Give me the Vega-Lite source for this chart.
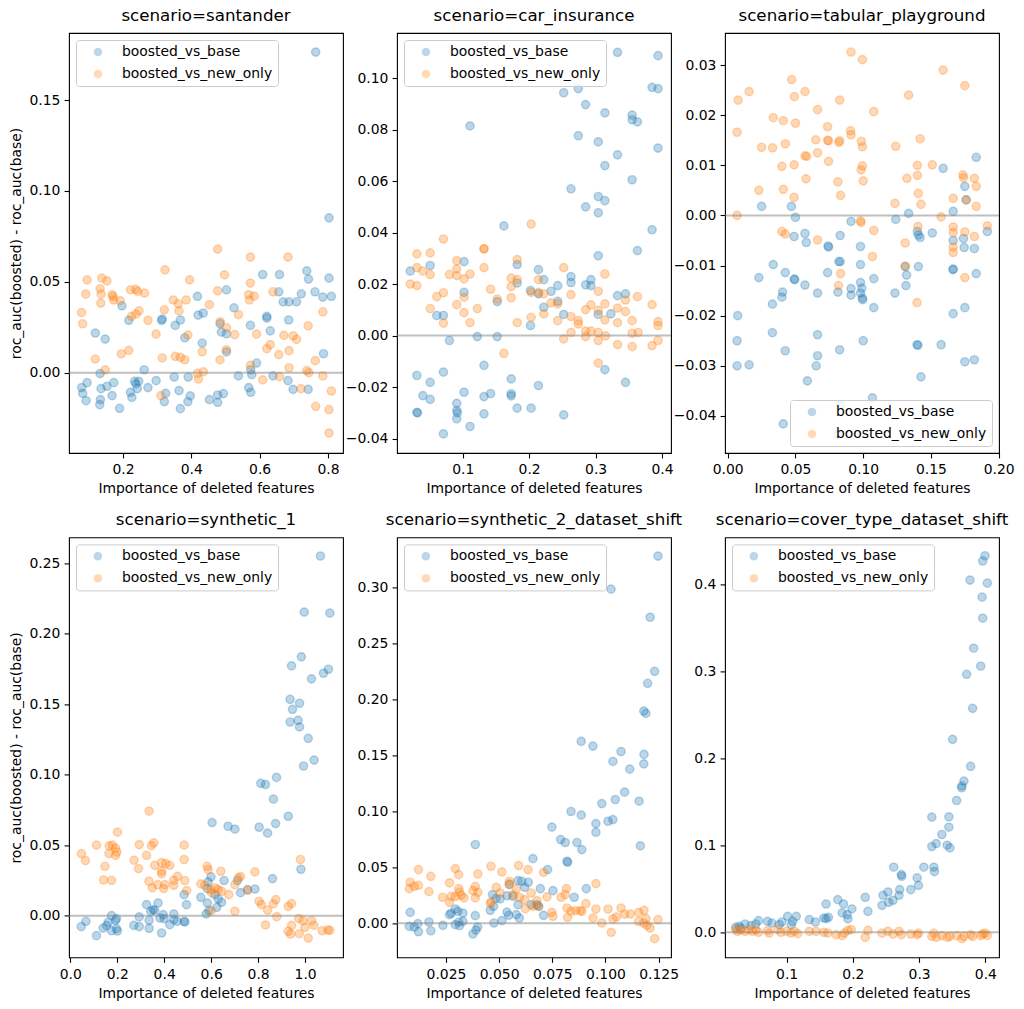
{
"$schema": "https://vega.github.io/schema/vega-lite/v6.json",
"padding": {"left": 9, "top": 7, "right": 5, "bottom": 5},
"background": "white",
"config": {
 "font": "DejaVu Sans",
 "view": {"stroke": "#000000", "strokeWidth": 1.1},
 "axis": {"grid": false, "domain": false, "ticks": true, "tickColor": "#000000", "tickSize": 4.9, "tickWidth": 1.1, "labelFontSize": 13.9, "labelColor": "#000000", "labelPadding": 4.9, "labelFlush": false, "labelOverlap": false, "labelBound": false, "titleFontSize": 13.9, "titleFontWeight": "normal", "titleColor": "#000000", "titlePadding": 5},
 "axisY": {"titlePadding": 5, "labelPadding": 4.2},
 "title": {"fontSize": 16.7, "fontWeight": "normal", "color": "#000000", "offset": 8.5, "baseline": "alphabetic", "anchor": "middle", "frame": "group"},
 "legend": {"offset": 7, "padding": 5, "fillColor": "rgba(255,255,255,0.8)", "strokeColor": "#cccccc", "strokeWidth": 1, "cornerRadius": 3, "labelFontSize": 13.9, "labelColor": "#000000", "symbolType": "circle", "symbolSize": 72, "symbolOpacity": 0.3, "symbolStrokeWidth": 0, "symbolOffset": 10, "labelOffset": 17, "rowPadding": 7}
},
"datasets": {
 "p1b": [{"x":0.764,"y":0.1764},{"x":0.803,"y":0.0852},{"x":0.738,"y":0.056},{"x":0.743,"y":0.0515},{"x":0.803,"y":0.052},{"x":0.609,"y":0.054},{"x":0.658,"y":0.054},{"x":0.503,"y":0.0456},{"x":0.418,"y":0.042},{"x":0.656,"y":0.0445},{"x":0.722,"y":0.0434},{"x":0.762,"y":0.0445},{"x":0.785,"y":0.0416},{"x":0.81,"y":0.042},{"x":0.669,"y":0.039},{"x":0.686,"y":0.039},{"x":0.708,"y":0.039},{"x":0.525,"y":0.0357},{"x":0.197,"y":0.0368},{"x":0.42,"y":0.0317},{"x":0.435,"y":0.0328},{"x":0.621,"y":0.031},{"x":0.621,"y":0.03},{"x":0.685,"y":0.029},{"x":0.217,"y":0.0288},{"x":0.313,"y":0.0288},{"x":0.315,"y":0.0295},{"x":0.353,"y":0.026},{"x":0.368,"y":0.029},{"x":0.573,"y":0.026},{"x":0.484,"y":0.027},{"x":0.488,"y":0.0223},{"x":0.503,"y":0.0214},{"x":0.631,"y":0.023},{"x":0.119,"y":0.0218},{"x":0.148,"y":0.0185},{"x":0.381,"y":0.0192},{"x":0.432,"y":0.0163},{"x":0.503,"y":0.0114},{"x":0.787,"y":0.0104},{"x":0.591,"y":0.0053},{"x":0.262,"y":0.0016},{"x":0.574,"y":0.0016},{"x":0.577,"y":-0.0011},{"x":0.133,"y":-0.0005},{"x":0.538,"y":-0.0018},{"x":0.639,"y":-0.0018},{"x":0.683,"y":-0.0044},{"x":0.35,"y":-0.0024},{"x":0.391,"y":-0.0024},{"x":0.297,"y":-0.0044},{"x":0.095,"y":-0.0055},{"x":0.173,"y":-0.0055},{"x":0.234,"y":-0.0048},{"x":0.246,"y":-0.0048},{"x":0.238,"y":-0.0062},{"x":0.079,"y":-0.0082},{"x":0.082,"y":-0.0114},{"x":0.092,"y":-0.0154},{"x":0.136,"y":-0.0088},{"x":0.153,"y":-0.0075},{"x":0.168,"y":-0.0126},{"x":0.134,"y":-0.0148},{"x":0.132,"y":-0.0176},{"x":0.19,"y":-0.0196},{"x":0.222,"y":-0.0108},{"x":0.226,"y":-0.0136},{"x":0.242,"y":-0.0088},{"x":0.273,"y":-0.0082},{"x":0.325,"y":-0.0114},{"x":0.321,"y":-0.0159},{"x":0.364,"y":-0.0099},{"x":0.368,"y":-0.0198},{"x":0.397,"y":-0.0128},{"x":0.39,"y":-0.0159},{"x":0.453,"y":-0.0148},{"x":0.477,"y":-0.0123},{"x":0.477,"y":-0.0163},{"x":0.494,"y":-0.0115},{"x":0.568,"y":-0.0082},{"x":0.574,"y":-0.0108},{"x":0.698,"y":-0.0092},{"x":0.742,"y":-0.0092}],
 "p1o": [{"x":0.477,"y":0.068},{"x":0.573,"y":0.0636},{"x":0.683,"y":0.0636},{"x":0.323,"y":0.0566},{"x":0.095,"y":0.0511},{"x":0.138,"y":0.052},{"x":0.153,"y":0.0505},{"x":0.395,"y":0.0511},{"x":0.497,"y":0.0538},{"x":0.573,"y":0.0493},{"x":0.091,"y":0.0432},{"x":0.133,"y":0.0462},{"x":0.136,"y":0.0432},{"x":0.135,"y":0.0383},{"x":0.168,"y":0.0429},{"x":0.171,"y":0.0419},{"x":0.173,"y":0.04},{"x":0.192,"y":0.0396},{"x":0.222,"y":0.0456},{"x":0.237,"y":0.0458},{"x":0.243,"y":0.0447},{"x":0.263,"y":0.0438},{"x":0.347,"y":0.04},{"x":0.362,"y":0.0379},{"x":0.385,"y":0.04},{"x":0.364,"y":0.034},{"x":0.321,"y":0.0346},{"x":0.453,"y":0.0374},{"x":0.477,"y":0.045},{"x":0.568,"y":0.0429},{"x":0.584,"y":0.0421},{"x":0.57,"y":0.04},{"x":0.639,"y":0.0445},{"x":0.079,"y":0.033},{"x":0.082,"y":0.0269},{"x":0.225,"y":0.031},{"x":0.238,"y":0.0322},{"x":0.247,"y":0.034},{"x":0.273,"y":0.0288},{"x":0.297,"y":0.0212},{"x":0.39,"y":0.0207},{"x":0.485,"y":0.028},{"x":0.503,"y":0.0247},{"x":0.527,"y":0.0209},{"x":0.538,"y":0.0319},{"x":0.591,"y":0.0212},{"x":0.671,"y":0.0205},{"x":0.698,"y":0.0203},{"x":0.708,"y":0.0183},{"x":0.742,"y":0.0258},{"x":0.785,"y":0.0335},{"x":0.686,"y":0.0121},{"x":0.631,"y":0.0154},{"x":0.621,"y":0.0132},{"x":0.656,"y":0.0099},{"x":0.119,"y":0.0075},{"x":0.195,"y":0.0103},{"x":0.217,"y":0.0123},{"x":0.315,"y":0.0081},{"x":0.353,"y":0.009},{"x":0.368,"y":0.0084},{"x":0.381,"y":0.0071},{"x":0.432,"y":0.0115},{"x":0.484,"y":0.007},{"x":0.503,"y":0.0126},{"x":0.148,"y":0.0015},{"x":0.418,"y":-0.0004},{"x":0.421,"y":-0.0035},{"x":0.435,"y":0.0005},{"x":0.573,"y":0.004},{"x":0.686,"y":0.0027},{"x":0.738,"y":0.0011},{"x":0.744,"y":0.0},{"x":0.763,"y":0.0066},{"x":0.785,"y":-0.0018},{"x":0.609,"y":-0.004},{"x":0.658,"y":-0.0022},{"x":0.721,"y":-0.0088},{"x":0.81,"y":-0.0101},{"x":0.311,"y":-0.0126},{"x":0.764,"y":-0.0185},{"x":0.803,"y":-0.0203},{"x":0.803,"y":-0.0333}],
 "p2b": [{"x":0.333,"y":0.11},{"x":0.394,"y":0.1087},{"x":0.252,"y":0.0943},{"x":0.274,"y":0.0959},{"x":0.285,"y":0.0897},{"x":0.314,"y":0.0865},{"x":0.355,"y":0.0856},{"x":0.355,"y":0.0838},{"x":0.363,"y":0.083},{"x":0.385,"y":0.0964},{"x":0.394,"y":0.0959},{"x":0.111,"y":0.0814},{"x":0.274,"y":0.0776},{"x":0.304,"y":0.0752},{"x":0.333,"y":0.0702},{"x":0.394,"y":0.0728},{"x":0.314,"y":0.066},{"x":0.355,"y":0.0605},{"x":0.263,"y":0.057},{"x":0.304,"y":0.054},{"x":0.314,"y":0.0524},{"x":0.285,"y":0.05},{"x":0.304,"y":0.0477},{"x":0.162,"y":0.0426},{"x":0.385,"y":0.0411},{"x":0.363,"y":0.033},{"x":0.304,"y":0.031},{"x":0.021,"y":0.025},{"x":0.051,"y":0.0272},{"x":0.102,"y":0.0287},{"x":0.182,"y":0.0276},{"x":0.214,"y":0.0256},{"x":0.222,"y":0.0217},{"x":0.263,"y":0.0229},{"x":0.263,"y":0.0206},{"x":0.182,"y":0.0204},{"x":0.102,"y":0.0168},{"x":0.202,"y":0.0175},{"x":0.214,"y":0.0162},{"x":0.233,"y":0.0172},{"x":0.243,"y":0.0194},{"x":0.293,"y":0.0217},{"x":0.285,"y":0.0197},{"x":0.293,"y":0.0194},{"x":0.333,"y":0.0155},{"x":0.345,"y":0.0162},{"x":0.152,"y":0.0132},{"x":0.243,"y":0.0133},{"x":0.222,"y":0.011},{"x":0.061,"y":0.0078},{"x":0.071,"y":0.0078},{"x":0.252,"y":0.0082},{"x":0.304,"y":0.0082},{"x":0.323,"y":0.0084},{"x":0.202,"y":0.0039},{"x":0.122,"y":-0.0004},{"x":0.152,"y":-0.0004},{"x":0.08,"y":-0.0019},{"x":0.031,"y":-0.0155},{"x":0.071,"y":-0.0142},{"x":0.132,"y":-0.0116},{"x":0.051,"y":-0.0182},{"x":0.173,"y":-0.0168},{"x":0.314,"y":-0.0132},{"x":0.345,"y":-0.0182},{"x":0.214,"y":-0.0194},{"x":0.04,"y":-0.0233},{"x":0.051,"y":-0.0248},{"x":0.102,"y":-0.022},{"x":0.132,"y":-0.0237},{"x":0.142,"y":-0.0225},{"x":0.173,"y":-0.0226},{"x":0.173,"y":-0.0234},{"x":0.091,"y":-0.0263},{"x":0.031,"y":-0.0298},{"x":0.032,"y":-0.03},{"x":0.091,"y":-0.0291},{"x":0.092,"y":-0.03},{"x":0.091,"y":-0.0323},{"x":0.182,"y":-0.0282},{"x":0.203,"y":-0.0282},{"x":0.132,"y":-0.0304},{"x":0.252,"y":-0.0308},{"x":0.111,"y":-0.0353},{"x":0.071,"y":-0.0382}],
 "p2o": [{"x":0.203,"y":0.0433},{"x":0.071,"y":0.0375},{"x":0.132,"y":0.0336},{"x":0.132,"y":0.0338},{"x":0.031,"y":0.0317},{"x":0.051,"y":0.0321},{"x":0.091,"y":0.0291},{"x":0.182,"y":0.0295},{"x":0.132,"y":0.0264},{"x":0.252,"y":0.0264},{"x":0.031,"y":0.0264},{"x":0.04,"y":0.025},{"x":0.051,"y":0.0237},{"x":0.091,"y":0.0259},{"x":0.08,"y":0.0237},{"x":0.091,"y":0.0233},{"x":0.102,"y":0.022},{"x":0.111,"y":0.0239},{"x":0.173,"y":0.0223},{"x":0.182,"y":0.0217},{"x":0.214,"y":0.0217},{"x":0.314,"y":0.0239},{"x":0.021,"y":0.02},{"x":0.031,"y":0.0194},{"x":0.173,"y":0.019},{"x":0.142,"y":0.018},{"x":0.071,"y":0.0166},{"x":0.061,"y":0.0151},{"x":0.102,"y":0.0149},{"x":0.152,"y":0.0142},{"x":0.173,"y":0.0147},{"x":0.203,"y":0.0168},{"x":0.214,"y":0.0168},{"x":0.222,"y":0.0162},{"x":0.263,"y":0.0159},{"x":0.304,"y":0.0172},{"x":0.363,"y":0.0151},{"x":0.345,"y":0.0138},{"x":0.091,"y":0.012},{"x":0.051,"y":0.0105},{"x":0.122,"y":0.0105},{"x":0.233,"y":0.0127},{"x":0.243,"y":0.0123},{"x":0.293,"y":0.0119},{"x":0.314,"y":0.0123},{"x":0.333,"y":0.0107},{"x":0.385,"y":0.012},{"x":0.102,"y":0.0089},{"x":0.222,"y":0.0084},{"x":0.285,"y":0.0101},{"x":0.304,"y":0.0098},{"x":0.345,"y":0.0093},{"x":0.071,"y":0.0048},{"x":0.111,"y":0.005},{"x":0.182,"y":0.005},{"x":0.203,"y":0.0071},{"x":0.243,"y":0.0058},{"x":0.263,"y":0.0074},{"x":0.274,"y":0.0058},{"x":0.274,"y":0.0045},{"x":0.314,"y":0.0061},{"x":0.333,"y":0.005},{"x":0.355,"y":0.0058},{"x":0.394,"y":0.0054},{"x":0.394,"y":0.0039},{"x":0.263,"y":0.0012},{"x":0.285,"y":0.0017},{"x":0.293,"y":0.0017},{"x":0.304,"y":0.0012},{"x":0.315,"y":-0.0001},{"x":0.285,"y":-0.0004},{"x":0.355,"y":0.0009},{"x":0.364,"y":0.0012},{"x":0.252,"y":-0.0013},{"x":0.304,"y":-0.0019},{"x":0.333,"y":-0.0035},{"x":0.355,"y":-0.0043},{"x":0.385,"y":-0.0039},{"x":0.394,"y":-0.0019},{"x":0.162,"y":-0.0069},{"x":0.304,"y":-0.0107}],
 "p3b": [{"x":0.1834,"y":0.0116},{"x":0.159,"y":0.0094},{"x":0.175,"y":0.0058},{"x":0.176,"y":0.0031},{"x":0.025,"y":0.0018},{"x":0.047,"y":0.0018},{"x":0.1664,"y":0.0008},{"x":0.1335,"y":0.0004},{"x":0.05,"y":-0.0004},{"x":0.091,"y":-0.0012},{"x":0.124,"y":-0.0008},{"x":0.14,"y":-0.0032},{"x":0.1407,"y":-0.0039},{"x":0.142,"y":-0.0044},{"x":0.151,"y":-0.0035},{"x":0.1916,"y":-0.0032},{"x":0.049,"y":-0.0042},{"x":0.057,"y":-0.0036},{"x":0.058,"y":-0.0054},{"x":0.083,"y":-0.004},{"x":0.074,"y":-0.0061},{"x":0.0745,"y":-0.0063},{"x":0.1664,"y":-0.005},{"x":0.174,"y":-0.0046},{"x":0.1745,"y":-0.0064},{"x":0.182,"y":-0.0066},{"x":0.098,"y":-0.0062},{"x":0.083,"y":-0.0092},{"x":0.082,"y":-0.0092},{"x":0.098,"y":-0.0098},{"x":0.0336,"y":-0.0098},{"x":0.1407,"y":-0.0102},{"x":0.131,"y":-0.0102},{"x":0.1664,"y":-0.0107},{"x":0.1662,"y":-0.0108},{"x":0.0737,"y":-0.0114},{"x":0.0425,"y":-0.0114},{"x":0.132,"y":-0.0119},{"x":0.1834,"y":-0.0116},{"x":0.023,"y":-0.0124},{"x":0.049,"y":-0.0127},{"x":0.0495,"y":-0.0128},{"x":0.1078,"y":-0.0126},{"x":0.057,"y":-0.0139},{"x":0.1315,"y":-0.014},{"x":0.098,"y":-0.0134},{"x":0.099,"y":-0.0145},{"x":0.091,"y":-0.0146},{"x":0.091,"y":-0.0159},{"x":0.0813,"y":-0.0153},{"x":0.0663,"y":-0.0155},{"x":0.0405,"y":-0.0153},{"x":0.04,"y":-0.0163},{"x":0.098,"y":-0.0155},{"x":0.0994,"y":-0.0165},{"x":0.0996,"y":-0.0168},{"x":0.1234,"y":-0.0155},{"x":0.1078,"y":-0.0184},{"x":0.033,"y":-0.0177},{"x":0.1664,"y":-0.0196},{"x":0.175,"y":-0.0184},{"x":0.0074,"y":-0.02},{"x":0.0069,"y":-0.025},{"x":0.033,"y":-0.0234},{"x":0.0663,"y":-0.0238},{"x":0.1,"y":-0.025},{"x":0.0425,"y":-0.027},{"x":0.0663,"y":-0.028},{"x":0.0826,"y":-0.0268},{"x":0.1397,"y":-0.0258},{"x":0.1404,"y":-0.0259},{"x":0.1575,"y":-0.0258},{"x":0.0069,"y":-0.03},{"x":0.0158,"y":-0.0298},{"x":0.0653,"y":-0.03},{"x":0.175,"y":-0.0292},{"x":0.182,"y":-0.0288},{"x":0.0588,"y":-0.033},{"x":0.1426,"y":-0.0322},{"x":0.1068,"y":-0.0364},{"x":0.0833,"y":-0.0378},{"x":0.041,"y":-0.0416},{"x":0.081,"y":-0.0438}],
 "p3o": [{"x":0.091,"y":0.0326},{"x":0.0994,"y":0.0311},{"x":0.159,"y":0.029},{"x":0.0472,"y":0.0271},{"x":0.175,"y":0.0259},{"x":0.0158,"y":0.0247},{"x":0.057,"y":0.0247},{"x":0.0077,"y":0.023},{"x":0.0492,"y":0.0237},{"x":0.0826,"y":0.023},{"x":0.1335,"y":0.024},{"x":0.0663,"y":0.0211},{"x":0.1078,"y":0.0207},{"x":0.0336,"y":0.0195},{"x":0.041,"y":0.0189},{"x":0.05,"y":0.0184},{"x":0.0737,"y":0.0177},{"x":0.0069,"y":0.0166},{"x":0.0907,"y":0.0169},{"x":0.091,"y":0.0161},{"x":0.065,"y":0.0151},{"x":0.0737,"y":0.015},{"x":0.0744,"y":0.0149},{"x":0.082,"y":0.0146},{"x":0.0826,"y":0.0149},{"x":0.0986,"y":0.0148},{"x":0.0994,"y":0.0137},{"x":0.124,"y":0.0138},{"x":0.142,"y":0.0153},{"x":0.025,"y":0.0136},{"x":0.0331,"y":0.0135},{"x":0.0425,"y":0.0143},{"x":0.057,"y":0.0119},{"x":0.0583,"y":0.0118},{"x":0.0663,"y":0.0125},{"x":0.0744,"y":0.0108},{"x":0.04,"y":0.0098},{"x":0.049,"y":0.0101},{"x":0.0984,"y":0.0091},{"x":0.0994,"y":0.0099},{"x":0.14,"y":0.01},{"x":0.151,"y":0.0101},{"x":0.0578,"y":0.0073},{"x":0.0813,"y":0.0067},{"x":0.1,"y":0.0069},{"x":0.1323,"y":0.0074},{"x":0.14,"y":0.008},{"x":0.1736,"y":0.0081},{"x":0.174,"y":0.0075},{"x":0.182,"y":0.0074},{"x":0.1834,"y":0.0058},{"x":0.023,"y":0.005},{"x":0.041,"y":0.0052},{"x":0.049,"y":0.0036},{"x":0.0833,"y":0.004},{"x":0.1407,"y":0.0044},{"x":0.1234,"y":0.0024},{"x":0.1426,"y":0.0022},{"x":0.1664,"y":0.0034},{"x":0.176,"y":0.0031},{"x":0.1834,"y":0.0018},{"x":0.0069,"y":0.0},{"x":0.1575,"y":-0.0003},{"x":0.098,"y":-0.0011},{"x":0.0984,"y":-0.0014},{"x":0.04,"y":-0.0032},{"x":0.0425,"y":-0.0037},{"x":0.1078,"y":-0.003},{"x":0.1404,"y":-0.0022},{"x":0.1664,"y":-0.0023},{"x":0.1664,"y":-0.0034},{"x":0.175,"y":-0.0033},{"x":0.182,"y":-0.0042},{"x":0.1916,"y":-0.0021},{"x":0.0663,"y":-0.0049},{"x":0.131,"y":-0.0055},{"x":0.1664,"y":-0.0063},{"x":0.1664,"y":-0.0074},{"x":0.1068,"y":-0.0082},{"x":0.131,"y":-0.0101},{"x":0.0833,"y":-0.0116},{"x":0.175,"y":-0.0124},{"x":0.0818,"y":-0.014},{"x":0.1397,"y":-0.0174}],
 "p4b": [{"x":1.065,"y":0.255},{"x":0.996,"y":0.2152},{"x":1.105,"y":0.2145},{"x":0.984,"y":0.1835},{"x":0.942,"y":0.1771},{"x":1.078,"y":0.1719},{"x":1.099,"y":0.1747},{"x":1.027,"y":0.1679},{"x":0.936,"y":0.1534},{"x":0.976,"y":0.1506},{"x":0.946,"y":0.1463},{"x":0.936,"y":0.1373},{"x":0.97,"y":0.1385},{"x":0.976,"y":0.1338},{"x":1.013,"y":0.1257},{"x":1.038,"y":0.1103},{"x":0.993,"y":0.1061},{"x":0.878,"y":0.098},{"x":0.811,"y":0.0938},{"x":0.831,"y":0.093},{"x":0.865,"y":0.0826},{"x":0.928,"y":0.0705},{"x":0.604,"y":0.066},{"x":0.672,"y":0.0634},{"x":0.701,"y":0.0613},{"x":0.804,"y":0.0627},{"x":0.874,"y":0.0653},{"x":0.84,"y":0.0585},{"x":0.982,"y":0.0329},{"x":0.861,"y":0.0263},{"x":0.599,"y":0.0275},{"x":0.655,"y":0.0249},{"x":0.712,"y":0.0249},{"x":0.587,"y":0.0239},{"x":0.725,"y":0.0163},{"x":0.755,"y":0.0185},{"x":0.786,"y":0.0189},{"x":0.584,"y":0.0192},{"x":0.485,"y":0.0149},{"x":0.556,"y":0.013},{"x":0.616,"y":0.0149},{"x":0.63,"y":0.0118},{"x":0.644,"y":0.0095},{"x":0.584,"y":0.009},{"x":0.624,"y":0.0059},{"x":0.59,"y":0.0036},{"x":0.579,"y":0.0012},{"x":0.495,"y":0.0078},{"x":0.325,"y":0.0078},{"x":0.374,"y":0.009},{"x":0.353,"y":0.0043},{"x":0.343,"y":0.0031},{"x":0.36,"y":0.0038},{"x":0.382,"y":-0.0017},{"x":0.396,"y":0.0007},{"x":0.4,"y":-0.0021},{"x":0.441,"y":0.0012},{"x":0.441,"y":-0.0028},{"x":0.424,"y":-0.0064},{"x":0.455,"y":-0.004},{"x":0.485,"y":-0.004},{"x":0.488,"y":-0.0045},{"x":0.389,"y":-0.0123},{"x":0.336,"y":-0.0033},{"x":0.336,"y":-0.009},{"x":0.294,"y":-0.0009},{"x":0.294,"y":-0.0078},{"x":0.271,"y":-0.0069},{"x":0.176,"y":0.0},{"x":0.197,"y":-0.0021},{"x":0.193,"y":-0.0033},{"x":0.162,"y":-0.0047},{"x":0.14,"y":-0.0088},{"x":0.155,"y":-0.0071},{"x":0.176,"y":-0.0107},{"x":0.197,"y":-0.0092},{"x":0.201,"y":-0.0109},{"x":0.067,"y":-0.004},{"x":0.047,"y":-0.0078},{"x":0.112,"y":-0.0142}],
 "p4o": [{"x":0.336,"y":0.0741},{"x":0.201,"y":0.0592},{"x":0.112,"y":0.05},{"x":0.294,"y":0.0504},{"x":0.166,"y":0.0495},{"x":0.18,"y":0.05},{"x":0.193,"y":0.0478},{"x":0.346,"y":0.0497},{"x":0.356,"y":0.0516},{"x":0.485,"y":0.05},{"x":0.048,"y":0.044},{"x":0.165,"y":0.044},{"x":0.199,"y":0.045},{"x":0.193,"y":0.0428},{"x":0.065,"y":0.0391},{"x":0.325,"y":0.0428},{"x":0.272,"y":0.0393},{"x":0.485,"y":0.0398},{"x":0.148,"y":0.035},{"x":0.291,"y":0.0334},{"x":0.36,"y":0.0357},{"x":0.389,"y":0.0376},{"x":0.406,"y":0.0369},{"x":0.424,"y":0.0357},{"x":0.389,"y":0.0315},{"x":0.389,"y":0.0296},{"x":0.583,"y":0.035},{"x":0.587,"y":0.0327},{"x":0.98,"y":0.0398},{"x":0.641,"y":0.0315},{"x":0.786,"y":0.031},{"x":0.725,"y":0.0277},{"x":0.142,"y":0.0253},{"x":0.176,"y":0.0251},{"x":0.335,"y":0.0244},{"x":0.457,"y":0.0279},{"x":0.488,"y":0.0249},{"x":0.44,"y":0.025},{"x":0.372,"y":0.022},{"x":0.349,"y":0.0197},{"x":0.403,"y":0.022},{"x":0.398,"y":0.0192},{"x":0.441,"y":0.0215},{"x":0.496,"y":0.0178},{"x":0.556,"y":0.0225},{"x":0.573,"y":0.0215},{"x":0.599,"y":0.0185},{"x":0.601,"y":0.0161},{"x":0.618,"y":0.0197},{"x":0.63,"y":0.0185},{"x":0.644,"y":0.0173},{"x":0.675,"y":0.0149},{"x":0.715,"y":0.0268},{"x":0.701,"y":0.022},{"x":0.755,"y":0.018},{"x":0.804,"y":0.0102},{"x":0.814,"y":0.0078},{"x":0.84,"y":0.004},{"x":0.864,"y":0.0083},{"x":0.875,"y":0.0114},{"x":0.928,"y":0.0066},{"x":0.942,"y":0.0085},{"x":0.879,"y":-0.0007},{"x":0.701,"y":0.0031},{"x":0.601,"y":0.0036},{"x":0.831,"y":-0.0066},{"x":0.973,"y":-0.0021},{"x":0.991,"y":-0.0036},{"x":1.027,"y":-0.0036},{"x":0.942,"y":-0.0069},{"x":0.999,"y":-0.0083},{"x":1.037,"y":-0.0069},{"x":0.938,"y":-0.013},{"x":0.975,"y":-0.0128},{"x":1.013,"y":-0.0159},{"x":1.072,"y":-0.0107},{"x":1.096,"y":-0.0102},{"x":1.105,"y":-0.0104},{"x":0.928,"y":-0.0111}],
 "p5b": [{"x":0.1247,"y":0.328},{"x":0.1026,"y":0.2985},{"x":0.121,"y":0.2734},{"x":0.1231,"y":0.2251},{"x":0.1198,"y":0.2144},{"x":0.118,"y":0.1896},{"x":0.119,"y":0.1875},{"x":0.0886,"y":0.1625},{"x":0.0941,"y":0.1583},{"x":0.1073,"y":0.1535},{"x":0.1035,"y":0.1446},{"x":0.1181,"y":0.1509},{"x":0.118,"y":0.1425},{"x":0.1114,"y":0.1377},{"x":0.109,"y":0.1172},{"x":0.1046,"y":0.1106},{"x":0.1158,"y":0.1091},{"x":0.0983,"y":0.107},{"x":0.0838,"y":0.0999},{"x":0.0886,"y":0.0966},{"x":0.0955,"y":0.0891},{"x":0.1012,"y":0.0912},{"x":0.1035,"y":0.0927},{"x":0.0955,"y":0.0814},{"x":0.0748,"y":0.0859},{"x":0.0789,"y":0.0748},{"x":0.0811,"y":0.0722},{"x":0.0866,"y":0.0722},{"x":0.0889,"y":0.0659},{"x":0.1164,"y":0.0692},{"x":0.0388,"y":0.0704},{"x":0.0659,"y":0.0578},{"x":0.0819,"y":0.0555},{"x":0.0822,"y":0.0546},{"x":0.0728,"y":0.048},{"x":0.0589,"y":0.0382},{"x":0.0607,"y":0.0376},{"x":0.0637,"y":0.0367},{"x":0.062,"y":0.0322},{"x":0.0548,"y":0.0346},{"x":0.0694,"y":0.031},{"x":0.0753,"y":0.0292},{"x":0.091,"y":0.031},{"x":0.0469,"y":0.0256},{"x":0.0505,"y":0.0218},{"x":0.0485,"y":0.0221},{"x":0.0538,"y":0.0247},{"x":0.0565,"y":0.0241},{"x":0.0589,"y":0.0167},{"x":0.0651,"y":0.0167},{"x":0.0678,"y":0.0167},{"x":0.0686,"y":0.0152},{"x":0.0853,"y":0.0233},{"x":0.0458,"y":0.0116},{"x":0.0474,"y":0.0152},{"x":0.0537,"y":0.0101},{"x":0.0545,"y":0.0072},{"x":0.0581,"y":0.0078},{"x":0.0595,"y":0.0048},{"x":0.0709,"y":0.0072},{"x":0.0513,"y":0.0024},{"x":0.0476,"y":0.0003},{"x":0.0294,"y":0.0128},{"x":0.0267,"y":0.0078},{"x":0.0275,"y":0.009},{"x":0.0306,"y":0.0107},{"x":0.033,"y":0.0092},{"x":0.0294,"y":-0.0012},{"x":0.031,"y":0.0012},{"x":0.0314,"y":-0.0021},{"x":0.033,"y":0.0018},{"x":0.0388,"y":0.0069},{"x":0.0236,"y":-0.0018},{"x":0.017,"y":0.0012},{"x":0.0179,"y":-0.0066},{"x":0.0118,"y":-0.0003},{"x":0.0121,"y":-0.0075},{"x":0.0082,"y":0.0098},{"x":0.0078,"y":-0.0027},{"x":0.0101,"y":-0.0033},{"x":0.0377,"y":-0.0095},{"x":0.0391,"y":-0.006},{"x":0.0399,"y":-0.0033}],
 "p5o": [{"x":0.0121,"y":0.048},{"x":0.0179,"y":0.042},{"x":0.0294,"y":0.0489},{"x":0.031,"y":0.0435},{"x":0.04,"y":0.0441},{"x":0.0462,"y":0.051},{"x":0.0513,"y":0.0459},{"x":0.0592,"y":0.0516},{"x":0.0636,"y":0.048},{"x":0.0709,"y":0.0456},{"x":0.0082,"y":0.0367},{"x":0.0078,"y":0.031},{"x":0.0101,"y":0.0331},{"x":0.0121,"y":0.034},{"x":0.017,"y":0.0283},{"x":0.0267,"y":0.0361},{"x":0.0234,"y":0.0233},{"x":0.0267,"y":0.0188},{"x":0.0275,"y":0.0242},{"x":0.031,"y":0.031},{"x":0.0314,"y":0.028},{"x":0.0294,"y":0.0239},{"x":0.0322,"y":0.025},{"x":0.0335,"y":0.0227},{"x":0.0388,"y":0.0331},{"x":0.0377,"y":0.0292},{"x":0.04,"y":0.0277},{"x":0.0388,"y":0.0227},{"x":0.0462,"y":0.0191},{"x":0.0459,"y":0.0176},{"x":0.0487,"y":0.0322},{"x":0.0505,"y":0.0271},{"x":0.0548,"y":0.0376},{"x":0.0548,"y":0.0352},{"x":0.0565,"y":0.0256},{"x":0.0581,"y":0.0307},{"x":0.0595,"y":0.0233},{"x":0.062,"y":0.0212},{"x":0.0623,"y":0.0131},{"x":0.0651,"y":0.0271},{"x":0.0678,"y":0.0203},{"x":0.0686,"y":0.0152},{"x":0.066,"y":0.0152},{"x":0.0725,"y":0.0236},{"x":0.0748,"y":0.0098},{"x":0.0753,"y":0.0063},{"x":0.0791,"y":0.0233},{"x":0.0816,"y":0.031},{"x":0.0811,"y":0.0256},{"x":0.0819,"y":0.0137},{"x":0.0822,"y":0.0054},{"x":0.0838,"y":0.0107},{"x":0.086,"y":0.0113},{"x":0.0882,"y":0.0113},{"x":0.0889,"y":0.0107},{"x":0.0908,"y":0.0176},{"x":0.0955,"y":0.0355},{"x":0.0955,"y":0.0128},{"x":0.0941,"y":0.0048},{"x":0.0983,"y":0.0003},{"x":0.1012,"y":0.0128},{"x":0.1027,"y":-0.008},{"x":0.1035,"y":0.0039},{"x":0.1051,"y":0.0057},{"x":0.1073,"y":0.0137},{"x":0.109,"y":0.0083},{"x":0.1117,"y":0.0083},{"x":0.1156,"y":0.0098},{"x":0.1181,"y":0.0116},{"x":0.1156,"y":0.0018},{"x":0.118,"y":0.0003},{"x":0.119,"y":0.0042},{"x":0.1195,"y":-0.0018},{"x":0.121,"y":-0.0042},{"x":0.1231,"y":-0.0137},{"x":0.1247,"y":0.0033}],
 "p6b": [{"x":0.3995,"y":0.433},{"x":0.396,"y":0.427},{"x":0.3768,"y":0.405},{"x":0.403,"y":0.4015},{"x":0.395,"y":0.3854},{"x":0.396,"y":0.3612},{"x":0.3823,"y":0.3267},{"x":0.393,"y":0.306},{"x":0.3717,"y":0.2967},{"x":0.3808,"y":0.2576},{"x":0.3505,"y":0.2219},{"x":0.3778,"y":0.1908},{"x":0.3677,"y":0.1739},{"x":0.3641,"y":0.1662},{"x":0.3646,"y":0.1685},{"x":0.3566,"y":0.1516},{"x":0.3192,"y":0.1324},{"x":0.3449,"y":0.1328},{"x":0.3449,"y":0.1209},{"x":0.3343,"y":0.1125},{"x":0.3258,"y":0.1021},{"x":0.3192,"y":0.0987},{"x":0.3424,"y":0.1002},{"x":0.3465,"y":0.0971},{"x":0.3071,"y":0.0749},{"x":0.3222,"y":0.0749},{"x":0.3232,"y":0.0699},{"x":0.2616,"y":0.0749},{"x":0.2732,"y":0.0664},{"x":0.2737,"y":0.0645},{"x":0.297,"y":0.0626},{"x":0.299,"y":0.0541},{"x":0.2874,"y":0.0491},{"x":0.2707,"y":0.0491},{"x":0.2697,"y":0.0426},{"x":0.2606,"y":0.0369},{"x":0.253,"y":0.0464},{"x":0.2455,"y":0.0426},{"x":0.254,"y":0.0345},{"x":0.244,"y":0.0311},{"x":0.2187,"y":0.0403},{"x":0.2227,"y":0.0242},{"x":0.1773,"y":0.0376},{"x":0.1859,"y":0.0326},{"x":0.1596,"y":0.0326},{"x":0.1838,"y":0.0223},{"x":0.1914,"y":0.0203},{"x":0.1924,"y":0.0154},{"x":0.1985,"y":0.0269},{"x":0.1561,"y":0.0165},{"x":0.1631,"y":0.0173},{"x":0.1596,"y":0.0157},{"x":0.1343,"y":0.0146},{"x":0.1434,"y":0.0119},{"x":0.1015,"y":0.0184},{"x":0.1146,"y":0.0184},{"x":0.1091,"y":0.0127},{"x":0.0929,"y":0.0119},{"x":0.0889,"y":0.0088},{"x":0.1071,"y":0.0088},{"x":0.0778,"y":0.0107},{"x":0.0712,"y":0.0127},{"x":0.0576,"y":0.0134},{"x":0.0535,"y":0.0096},{"x":0.046,"y":0.0077},{"x":0.0374,"y":0.0096},{"x":0.0283,"y":0.0069},{"x":0.0232,"y":0.0058},{"x":0.0308,"y":0.005}],
 "p6o": [{"x":0.0232,"y":0.0031},{"x":0.0258,"y":0.0012},{"x":0.0308,"y":0.0027},{"x":0.0374,"y":0.0012},{"x":0.0434,"y":0.0031},{"x":0.0485,"y":0.0012},{"x":0.0535,"y":0.0027},{"x":0.0576,"y":0.0},{"x":0.0712,"y":0.0019},{"x":0.0737,"y":-0.0008},{"x":0.0864,"y":0.0031},{"x":0.0914,"y":0.0},{"x":0.1,"y":0.0012},{"x":0.1066,"y":-0.0008},{"x":0.1116,"y":0.0012},{"x":0.1167,"y":-0.0015},{"x":0.1343,"y":0.0012},{"x":0.1444,"y":0.0012},{"x":0.1561,"y":0.0},{"x":0.1621,"y":-0.0008},{"x":0.1747,"y":-0.0027},{"x":0.1838,"y":-0.0038},{"x":0.1874,"y":-0.0008},{"x":0.1924,"y":0.0023},{"x":0.1975,"y":0.0031},{"x":0.2187,"y":-0.0058},{"x":0.2227,"y":0.0023},{"x":0.244,"y":-0.0008},{"x":0.253,"y":0.0012},{"x":0.2606,"y":-0.0019},{"x":0.2697,"y":0.0012},{"x":0.2732,"y":-0.0027},{"x":0.2874,"y":-0.0019},{"x":0.297,"y":-0.0027},{"x":0.299,"y":-0.0008},{"x":0.3222,"y":-0.0008},{"x":0.3192,"y":-0.0046},{"x":0.3263,"y":-0.0058},{"x":0.3343,"y":-0.0038},{"x":0.3424,"y":-0.0058},{"x":0.3465,"y":-0.0046},{"x":0.3566,"y":-0.0038},{"x":0.3646,"y":-0.0073},{"x":0.3677,"y":-0.0046},{"x":0.3778,"y":-0.0027},{"x":0.3808,"y":-0.0046},{"x":0.393,"y":-0.0038},{"x":0.396,"y":-0.0019},{"x":0.3995,"y":-0.0008},{"x":0.403,"y":-0.0035}],
 "zero": [{"y": 0}]
},
"columns": 3,
"spacing": {"row": 84.4, "column": 54},
"bounds": "flush",
"resolve": {"scale": {"color": "independent"}, "legend": {"color": "independent"}},
"concat": [
 {"width": 274, "height": 420, "title": "scenario=santander", "layer": [
  {"data": {"name": "p1b"}, "mark": {"type": "circle", "size": 68, "opacity": 1, "fillOpacity": 0.3, "stroke": "#1f77b4", "strokeOpacity": 0.3, "strokeWidth": 1.4},
   "encoding": {"x": {"field": "x", "type": "quantitative", "title": "Importance of deleted features", "scale": {"domain": [0.042, 0.844], "nice": false, "zero": false}, "axis": {"values": [0.2, 0.4, 0.6, 0.8], "labelExpr": "replace(format(datum.value, '.1f'), '-', '−')"}},
    "y": {"field": "y", "type": "quantitative", "title": "roc_auc(boosted) - roc_auc(base)", "scale": {"domain": [-0.0442, 0.1869], "nice": false, "zero": false}, "axis": {"values": [0, 0.05, 0.1, 0.15], "labelExpr": "replace(format(datum.value, '.2f'), '-', '−')"}},
    "color": {"datum": "boosted_vs_base", "type": "nominal", "scale": {"domain": ["boosted_vs_base", "boosted_vs_new_only"], "range": ["#1f77b4", "#ff7f0e"]}, "legend": {"orient": "top-left", "title": null}}}},
  {"data": {"name": "p1o"}, "mark": {"type": "circle", "size": 68, "opacity": 1, "fillOpacity": 0.3, "stroke": "#ff7f0e", "strokeOpacity": 0.3, "strokeWidth": 1.4},
   "encoding": {"x": {"field": "x", "type": "quantitative", "title": "Importance of deleted features"}, "y": {"field": "y", "type": "quantitative", "title": "roc_auc(boosted) - roc_auc(base)"}, "color": {"datum": "boosted_vs_new_only", "type": "nominal"}}},
  {"data": {"name": "zero"}, "mark": {"type": "rule", "color": "#808080", "opacity": 0.5, "strokeWidth": 2}, "encoding": {"y": {"field": "y", "type": "quantitative", "title": "roc_auc(boosted) - roc_auc(base)"}}}
 ]},
 {"width": 274, "height": 420, "title": "scenario=car_insurance", "layer": [
  {"data": {"name": "p2b"}, "mark": {"type": "circle", "size": 68, "opacity": 1, "fillOpacity": 0.3, "stroke": "#1f77b4", "strokeOpacity": 0.3, "strokeWidth": 1.4},
   "encoding": {"x": {"field": "x", "type": "quantitative", "title": "Importance of deleted features", "scale": {"domain": [0.0011, 0.4135], "nice": false, "zero": false}, "axis": {"values": [0.1, 0.2, 0.3, 0.4], "labelExpr": "replace(format(datum.value, '.1f'), '-', '−')"}},
    "y": {"field": "y", "type": "quantitative", "title": null, "scale": {"domain": [-0.0456, 0.1175], "nice": false, "zero": false}, "axis": {"values": [-0.04, -0.02, 0, 0.02, 0.04, 0.06, 0.08, 0.1], "labelExpr": "replace(format(datum.value, '.2f'), '-', '−')"}},
    "color": {"datum": "boosted_vs_base", "type": "nominal", "scale": {"domain": ["boosted_vs_base", "boosted_vs_new_only"], "range": ["#1f77b4", "#ff7f0e"]}, "legend": {"orient": "top-left", "title": null}}}},
  {"data": {"name": "p2o"}, "mark": {"type": "circle", "size": 68, "opacity": 1, "fillOpacity": 0.3, "stroke": "#ff7f0e", "strokeOpacity": 0.3, "strokeWidth": 1.4},
   "encoding": {"x": {"field": "x", "type": "quantitative", "title": "Importance of deleted features"}, "y": {"field": "y", "type": "quantitative", "title": null}, "color": {"datum": "boosted_vs_new_only", "type": "nominal"}}},
  {"data": {"name": "zero"}, "mark": {"type": "rule", "color": "#808080", "opacity": 0.5, "strokeWidth": 2}, "encoding": {"y": {"field": "y", "type": "quantitative", "title": null}}}
 ]},
 {"width": 274, "height": 420, "title": "scenario=tabular_playground", "layer": [
  {"data": {"name": "p3b"}, "mark": {"type": "circle", "size": 68, "opacity": 1, "fillOpacity": 0.3, "stroke": "#1f77b4", "strokeOpacity": 0.3, "strokeWidth": 1.4},
   "encoding": {"x": {"field": "x", "type": "quantitative", "title": "Importance of deleted features", "scale": {"domain": [-0.002, 0.2002], "nice": false, "zero": false}, "axis": {"values": [0, 0.05, 0.1, 0.15, 0.2], "labelExpr": "replace(format(datum.value, '.2f'), '-', '−')"}},
    "y": {"field": "y", "type": "quantitative", "title": null, "scale": {"domain": [-0.0474, 0.0364], "nice": false, "zero": false}, "axis": {"values": [-0.04, -0.03, -0.02, -0.01, 0, 0.01, 0.02, 0.03], "labelExpr": "replace(format(datum.value, '.2f'), '-', '−')"}},
    "color": {"datum": "boosted_vs_base", "type": "nominal", "scale": {"domain": ["boosted_vs_base", "boosted_vs_new_only"], "range": ["#1f77b4", "#ff7f0e"]}, "legend": {"orient": "bottom-right", "title": null}}}},
  {"data": {"name": "p3o"}, "mark": {"type": "circle", "size": 68, "opacity": 1, "fillOpacity": 0.3, "stroke": "#ff7f0e", "strokeOpacity": 0.3, "strokeWidth": 1.4},
   "encoding": {"x": {"field": "x", "type": "quantitative", "title": "Importance of deleted features"}, "y": {"field": "y", "type": "quantitative", "title": null}, "color": {"datum": "boosted_vs_new_only", "type": "nominal"}}},
  {"data": {"name": "zero"}, "mark": {"type": "rule", "color": "#808080", "opacity": 0.5, "strokeWidth": 2}, "encoding": {"y": {"field": "y", "type": "quantitative", "title": null}}}
 ]},
 {"width": 274, "height": 420, "title": "scenario=synthetic_1", "layer": [
  {"data": {"name": "p4b"}, "mark": {"type": "circle", "size": 68, "opacity": 1, "fillOpacity": 0.3, "stroke": "#1f77b4", "strokeOpacity": 0.3, "strokeWidth": 1.4},
   "encoding": {"x": {"field": "x", "type": "quantitative", "title": "Importance of deleted features", "scale": {"domain": [-0.005, 1.161], "nice": false, "zero": false}, "axis": {"values": [0, 0.2, 0.4, 0.6, 0.8, 1.0], "labelExpr": "replace(format(datum.value, '.1f'), '-', '−')"}},
    "y": {"field": "y", "type": "quantitative", "title": "roc_auc(boosted) - roc_auc(base)", "scale": {"domain": [-0.0296, 0.2682], "nice": false, "zero": false}, "axis": {"values": [0, 0.05, 0.1, 0.15, 0.2, 0.25], "labelExpr": "replace(format(datum.value, '.2f'), '-', '−')"}},
    "color": {"datum": "boosted_vs_base", "type": "nominal", "scale": {"domain": ["boosted_vs_base", "boosted_vs_new_only"], "range": ["#1f77b4", "#ff7f0e"]}, "legend": {"orient": "top-left", "title": null}}}},
  {"data": {"name": "p4o"}, "mark": {"type": "circle", "size": 68, "opacity": 1, "fillOpacity": 0.3, "stroke": "#ff7f0e", "strokeOpacity": 0.3, "strokeWidth": 1.4},
   "encoding": {"x": {"field": "x", "type": "quantitative", "title": "Importance of deleted features"}, "y": {"field": "y", "type": "quantitative", "title": "roc_auc(boosted) - roc_auc(base)"}, "color": {"datum": "boosted_vs_new_only", "type": "nominal"}}},
  {"data": {"name": "zero"}, "mark": {"type": "rule", "color": "#808080", "opacity": 0.5, "strokeWidth": 2}, "encoding": {"y": {"field": "y", "type": "quantitative", "title": "roc_auc(boosted) - roc_auc(base)"}}}
 ]},
 {"width": 274, "height": 420, "title": "scenario=synthetic_2_dataset_shift", "layer": [
  {"data": {"name": "p5b"}, "mark": {"type": "circle", "size": 68, "opacity": 1, "fillOpacity": 0.3, "stroke": "#1f77b4", "strokeOpacity": 0.3, "strokeWidth": 1.4},
   "encoding": {"x": {"field": "x", "type": "quantitative", "title": "Importance of deleted features", "scale": {"domain": [0.002, 0.1308], "nice": false, "zero": false}, "axis": {"values": [0.025, 0.05, 0.075, 0.1, 0.125], "labelExpr": "replace(format(datum.value, '.3f'), '-', '−')"}},
    "y": {"field": "y", "type": "quantitative", "title": null, "scale": {"domain": [-0.0304, 0.3447], "nice": false, "zero": false}, "axis": {"values": [0, 0.05, 0.1, 0.15, 0.2, 0.25, 0.3], "labelExpr": "replace(format(datum.value, '.2f'), '-', '−')"}},
    "color": {"datum": "boosted_vs_base", "type": "nominal", "scale": {"domain": ["boosted_vs_base", "boosted_vs_new_only"], "range": ["#1f77b4", "#ff7f0e"]}, "legend": {"orient": "top-left", "title": null}}}},
  {"data": {"name": "p5o"}, "mark": {"type": "circle", "size": 68, "opacity": 1, "fillOpacity": 0.3, "stroke": "#ff7f0e", "strokeOpacity": 0.3, "strokeWidth": 1.4},
   "encoding": {"x": {"field": "x", "type": "quantitative", "title": "Importance of deleted features"}, "y": {"field": "y", "type": "quantitative", "title": null}, "color": {"datum": "boosted_vs_new_only", "type": "nominal"}}},
  {"data": {"name": "zero"}, "mark": {"type": "rule", "color": "#808080", "opacity": 0.5, "strokeWidth": 2}, "encoding": {"y": {"field": "y", "type": "quantitative", "title": null}}}
 ]},
 {"width": 274, "height": 420, "title": "scenario=cover_type_dataset_shift", "layer": [
  {"data": {"name": "p6b"}, "mark": {"type": "circle", "size": 68, "opacity": 1, "fillOpacity": 0.3, "stroke": "#1f77b4", "strokeOpacity": 0.3, "strokeWidth": 1.4},
   "encoding": {"x": {"field": "x", "type": "quantitative", "title": "Importance of deleted features", "scale": {"domain": [0.007, 0.4206], "nice": false, "zero": false}, "axis": {"values": [0.1, 0.2, 0.3, 0.4], "labelExpr": "replace(format(datum.value, '.1f'), '-', '−')"}},
    "y": {"field": "y", "type": "quantitative", "title": null, "scale": {"domain": [-0.0288, 0.4541], "nice": false, "zero": false}, "axis": {"values": [0, 0.1, 0.2, 0.3, 0.4], "labelExpr": "replace(format(datum.value, '.1f'), '-', '−')"}},
    "color": {"datum": "boosted_vs_base", "type": "nominal", "scale": {"domain": ["boosted_vs_base", "boosted_vs_new_only"], "range": ["#1f77b4", "#ff7f0e"]}, "legend": {"orient": "top-left", "title": null}}}},
  {"data": {"name": "p6o"}, "mark": {"type": "circle", "size": 68, "opacity": 1, "fillOpacity": 0.3, "stroke": "#ff7f0e", "strokeOpacity": 0.3, "strokeWidth": 1.4},
   "encoding": {"x": {"field": "x", "type": "quantitative", "title": "Importance of deleted features"}, "y": {"field": "y", "type": "quantitative", "title": null}, "color": {"datum": "boosted_vs_new_only", "type": "nominal"}}},
  {"data": {"name": "zero"}, "mark": {"type": "rule", "color": "#808080", "opacity": 0.5, "strokeWidth": 2}, "encoding": {"y": {"field": "y", "type": "quantitative", "title": null}}}
 ]}
]
}
